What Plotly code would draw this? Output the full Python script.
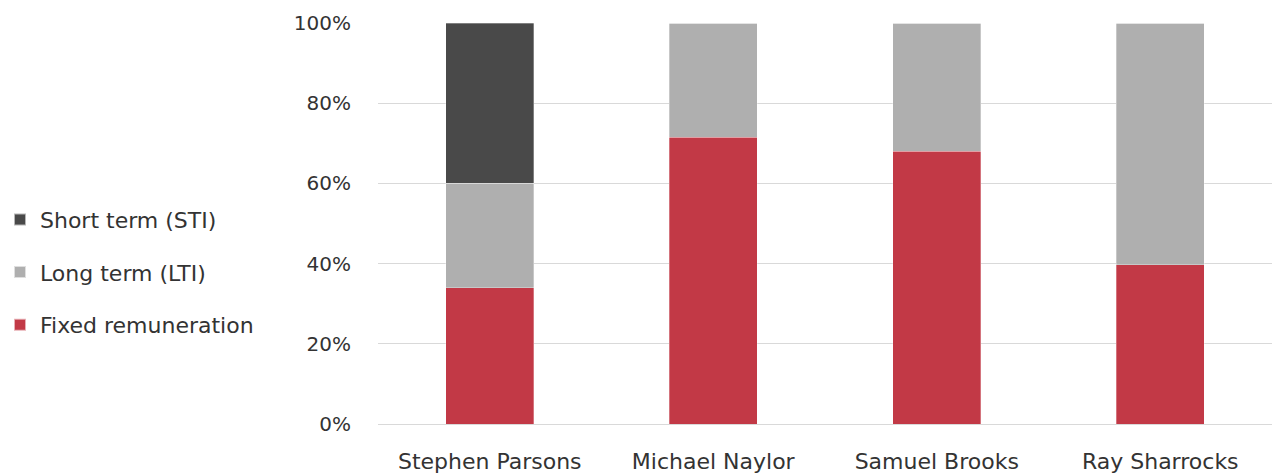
import plotly.graph_objects as go

categories = ["Stephen Parsons", "Michael Naylor", "Samuel Brooks", "Ray Sharrocks"]
fixed = [34, 71.5, 68, 39.7]
lti = [26, 28.5, 32, 60.3]
sti = [40, 0, 0, 0]
tick_vals = [0, 20, 40, 60, 80, 100]
tick_text = ["0%", "20%", "40%", "60%", "80%", "100%"]

series = [
    ("Fixed remuneration", fixed, "#c23946", 3),
    ("Long term (LTI)", lti, "#afafaf", 2),
    ("Short term (STI)", sti, "#494949", 1),
]

FONT = "DejaVu Sans"
TXT = "#333333"

fig = go.Figure()
for i, (name, vals, color, rank) in enumerate(series):
    fig.add_trace(go.Bar(
        x=categories, y=vals, name=name, legendgroup=f"g{i}", legendrank=rank,
        marker=dict(color=color, line=dict(color="rgba(255,255,255,0.6)", width=0.5)),
    ))

fig.update_layout(
    barmode="stack",
    bargap=0.605,
    width=1274, height=475,
    margin=dict(l=378, r=2, t=23, b=51, autoexpand=False),
    plot_bgcolor="white", paper_bgcolor="white",
    font=dict(family=FONT, size=20, color=TXT),
    legend=dict(
        traceorder="grouped", tracegroupgap=21,
        xref="container", yref="container", x=0.0, y=0.427,
        xanchor="left", yanchor="middle",
        font=dict(family=FONT, size=22, color=TXT),
        itemwidth=30, itemsizing="constant",
    ),
    xaxis=dict(showgrid=False, showline=False, ticks="", automargin=False,
               tickfont=dict(size=22), ticklabelstandoff=22),
    yaxis=dict(
        range=[0, 100], tickvals=tick_vals, ticktext=tick_text,
        showgrid=True, gridcolor="#d9d9d9", gridwidth=1,
        zeroline=True, zerolinecolor="#d9d9d9", zerolinewidth=1,
        ticklabelstandoff=26, tickfont=dict(size=20), automargin=False,
    ),
)

fig.write_html("out.html")
